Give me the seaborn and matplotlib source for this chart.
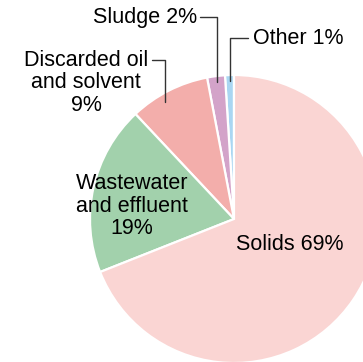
import numpy as np
import matplotlib
matplotlib.use("Agg")
import matplotlib.pyplot as plt
import seaborn as sns

categories = ["Other", "Sludge", "Discarded oil\nand solvent", "Wastewater\nand effluent", "Solids"]
values = [1, 2, 9, 19, 69]
colors = ["#a9d6f2", "#d3a3c9", "#f3aeab", "#a2d1ac", "#fad5d3"]

sns.set_theme(style="white")
plt.rcParams['font.family'] = ['Liberation Sans', 'DejaVu Sans']
plt.rcParams['text.color'] = 'black'

W, H = 363, 362
fig = plt.figure(figsize=(W / 100, H / 100), dpi=100)
ax = fig.add_axes([0, 0, 1, 1])

cx, cy, R = 234, H - 219, 144
wedges, _ = ax.pie(values, colors=colors, startangle=90, counterclock=True,
                   center=(cx, cy), radius=R, frame=True,
                   wedgeprops=dict(edgecolor="white", linewidth=1.6))
ax.set_xlim(0, W)
ax.set_ylim(0, H)
ax.set_aspect('equal')
ax.axis('off')

fs = 15.5
def pt(angle_deg, frac):
    a = np.deg2rad(angle_deg)
    return cx + R * frac * np.cos(a), cy + R * frac * np.sin(a)

def mid(w):
    return (w.theta1 + w.theta2) / 2

lc = "#333333"
# Other
x0, y0 = pt(mid(wedges[0]), 0.96)
ax.plot([248, x0, x0], [H - 38, H - 38, y0], color=lc, lw=1)
ax.text(253, H - 38, f"{categories[0]} {values[0]}%", ha='left', va='center', fontsize=fs, color='black')
# Sludge
x0, y0 = pt(mid(wedges[1]), 0.96)
ax.plot([200, x0, x0], [H - 17, H - 17, y0], color=lc, lw=1)
ax.text(197, H - 17, f"{categories[1]} {values[1]}%", ha='right', va='center', fontsize=fs, color='black')
# Discarded
x0, y0 = pt(120.5, 0.94)
ax.plot([152, x0, x0], [H - 60, H - 60, y0], color=lc, lw=1)
ax.text(86, H - 83, f"{categories[2]}\n{values[2]}%", ha='center', va='center',
        fontsize=fs, linespacing=1.12, multialignment='center', color='black')
# Wastewater
ax.text(132, H - 206, f"{categories[3]}\n{values[3]}%", ha='center', va='center',
        fontsize=fs, linespacing=1.12, multialignment='center', color='black')
# Solids
ax.text(290, H - 245, f"{categories[4]} {values[4]}%", ha='center', va='center', fontsize=fs, color='black')

fig.savefig("out.png", dpi=100)
